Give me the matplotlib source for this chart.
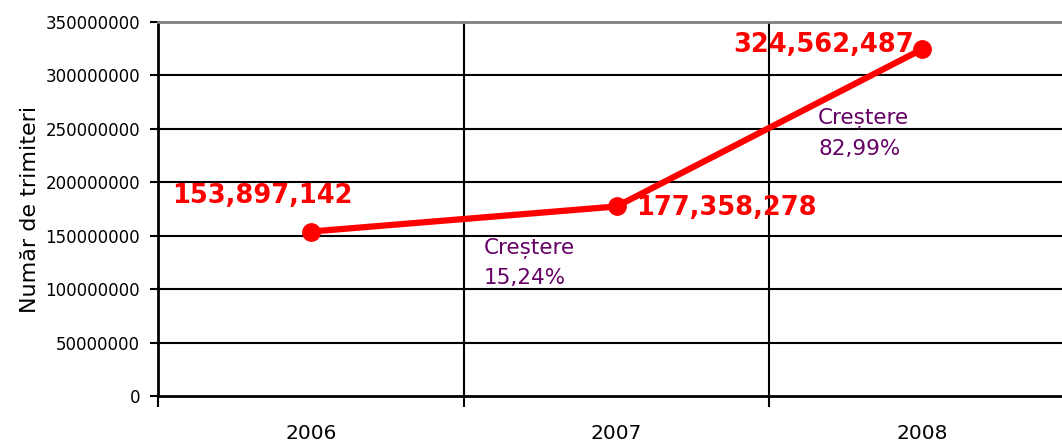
import matplotlib.pyplot as plt
import numpy as np

years = ['2006', '2007', '2008']
trimiteri = [153897142, 177358278, 324562487]
labels = ['153,897,142', '177,358,278', '324,562,487']
label_offsets = [(-139, 36), (20, -2), (-189, 4)]  # pixels, from each point
growth = ['Creștere\n15,24%', 'Creștere\n82,99%']
growth_pos = [(0.567, 148e6), (1.66, 269.5e6)]

fig = plt.figure(figsize=(10.62, 4.44), dpi=100)
# right edge of the plot runs past the picture, like the original
ax = fig.add_axes([158 / 1062, 1 - 396 / 444, 917 / 1062, 374 / 444])

x = np.arange(len(years))
ax.plot(x, trimiteri, color='#ff0000', lw=4.5, marker='o', ms=12.5, zorder=5, clip_on=False)

for xi, yi, lab, off in zip(x, trimiteri, labels, label_offsets):
    ax.annotate(lab, (xi, yi), xytext=off, textcoords='offset pixels',
                ha='left', va='center', color='#ff0000', fontsize=18.5,
                fontweight='bold', zorder=6)

for txt, (gx, gy) in zip(growth, growth_pos):
    ax.text(gx, gy, txt, color='#660066', fontsize=15.5, ha='left', va='top',
            linespacing=1.6)

ax.set_xlim(-0.5, 2.5)
ax.set_ylim(0, 350000000)
ax.set_yticks(np.arange(0, 350000001, 50000000))
ax.set_yticklabels([str(v) for v in range(0, 350000001, 50000000)], fontsize=12)

# category labels centred, tick marks on boundaries
ax.set_xticks(x)
ax.set_xticklabels(years, fontsize=14.5)
ax.tick_params(axis='x', which='major', length=0, pad=20)
ax.set_xticks([-0.5, 0.5, 1.5, 2.5], minor=True)
ax.tick_params(axis='x', which='minor', length=8, width=1.5, direction='out')
ax.tick_params(axis='y', length=6, width=1.5, direction='out', pad=7)

ax.set_ylabel('Număr de trimiteri', fontsize=16, labelpad=4)

for v in range(50000000, 350000000, 50000000):
    ax.axhline(v, color='black', lw=1.5, zorder=1)
for b in [0.5, 1.5]:
    ax.axvline(b, color='black', lw=1.5, zorder=1)

ax.spines['top'].set_color('#808080')
ax.spines['top'].set_linewidth(2)
ax.spines['left'].set_linewidth(2)
ax.spines['bottom'].set_linewidth(2)
ax.spines['right'].set_visible(False)

fig.savefig('out.png', dpi=100)
